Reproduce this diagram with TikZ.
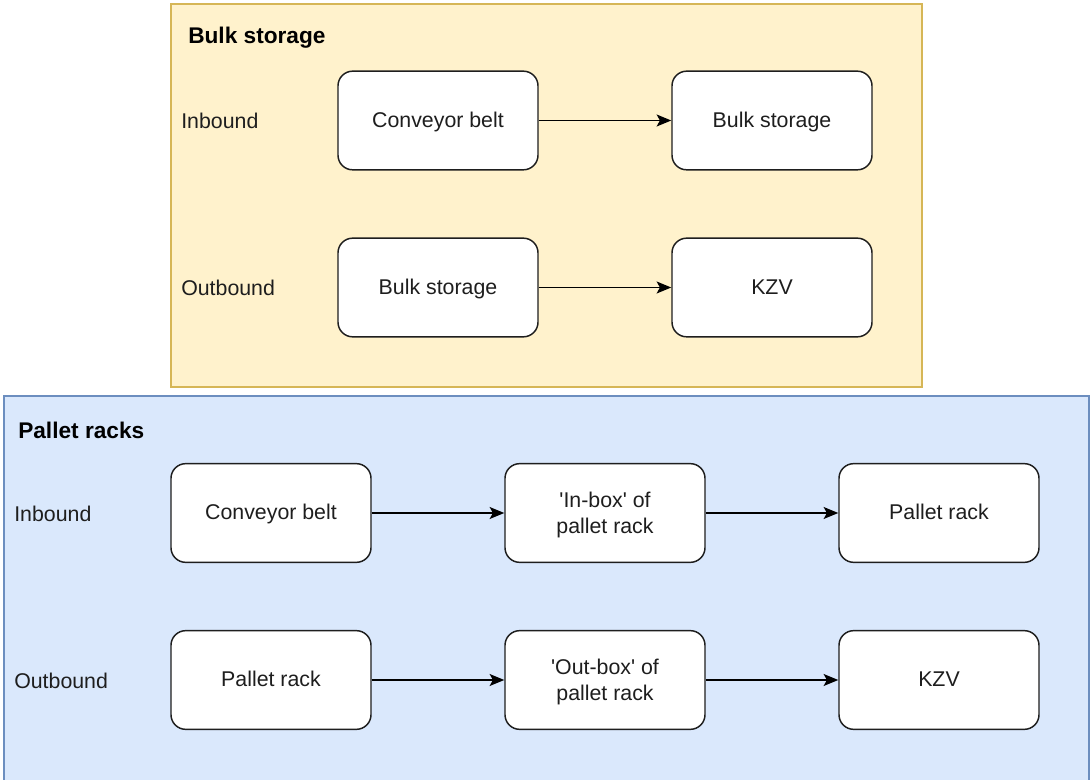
\documentclass[tikz,border=0pt]{standalone}
\usepackage{fontspec}
\setmainfont{Liberation Sans}
\newfontfamily\plainquote{Liberation Sans}
\usetikzlibrary{arrows.meta}
\definecolor{bulkfill}{RGB}{255,242,204}
\definecolor{bulkline}{RGB}{214,182,86}
\definecolor{rackfill}{RGB}{218,232,252}
\definecolor{rackline}{RGB}{108,142,191}
\definecolor{inkgray}{RGB}{30,30,30}
\newcommand{\sq}{{\plainquote'}}
\tikzset{
  stepbox/.style={draw=inkgray, line width=1.1pt, fill=white, rounded corners=11pt,
    minimum width=150pt, minimum height=74pt, align=center, inner sep=0pt,
    text=inkgray, font=\fontsize{16}{19.5}\selectfont, text height=9.8pt, text depth=0pt},
  twoline/.style={text height=, text depth=0pt},
  rowlabel/.style={anchor=west, inner sep=0pt, text=inkgray, font=\fontsize{16}{19.5}\selectfont},
  grouptitle/.style={anchor=west, inner sep=0pt, font=\fontsize{17}{20}\selectfont\bfseries},
  flow/.style={-{Stealth[length=11pt,width=9pt,inset=2.5pt]}, line width=1pt, draw=black},
}
\begin{document}
\begin{tikzpicture}[x=0.75pt,y=0.75pt,yscale=-1,xscale=1]
\useasboundingbox (0,0) rectangle (1090,780);
%Group: Bulk storage
\draw [fill=bulkfill, draw=bulkline, line width=1.1pt] (171,4) rectangle (922,387);
\node [grouptitle] (bulktitle) at (188,38) {Bulk storage};
\node [rowlabel] (bulkin) at (181,121) {Inbound};
\node [rowlabel] (bulkout) at (181,288) {Outbound};
\node [stepbox] (bconv) at (438,120.5) {Conveyor belt};
\node [stepbox] (bstore) at (772,120.5) {Bulk storage};
\node [stepbox] (bstoreout) at (438,287.5) {Bulk storage};
\node [stepbox] (bkzv) at (772,287.5) {KZV};
\draw [flow] (bconv) -- (bstore);
\draw [flow] (bstoreout) -- (bkzv);
%Group: Pallet racks
\draw [fill=rackfill, draw=rackline, line width=1.1pt] (4,396) rectangle (1089,795);
\node [grouptitle] (racktitle) at (18,430) {Pallet racks};
\node [rowlabel] (rackin) at (14,514) {Inbound};
\node [rowlabel] (rackout) at (14,681) {Outbound};
\node [stepbox] (rconv) at (271,513) {Conveyor belt};
\node [stepbox, twoline] (rinbox) at (605,513) {\sq In-box\sq{} of\\pallet rack};
\node [stepbox] (rrack) at (939,513) {Pallet rack};
\node [stepbox] (rrackout) at (271,680) {Pallet rack};
\node [stepbox, twoline] (routbox) at (605,680) {\sq Out-box\sq{} of\\pallet rack};
\node [stepbox] (rkzv) at (939,680) {KZV};
\draw [flow] (rconv) -- (rinbox);
\draw [flow] (rinbox) -- (rrack);
\draw [flow] (rrackout) -- (routbox);
\draw [flow] (routbox) -- (rkzv);
\end{tikzpicture}
\end{document}
